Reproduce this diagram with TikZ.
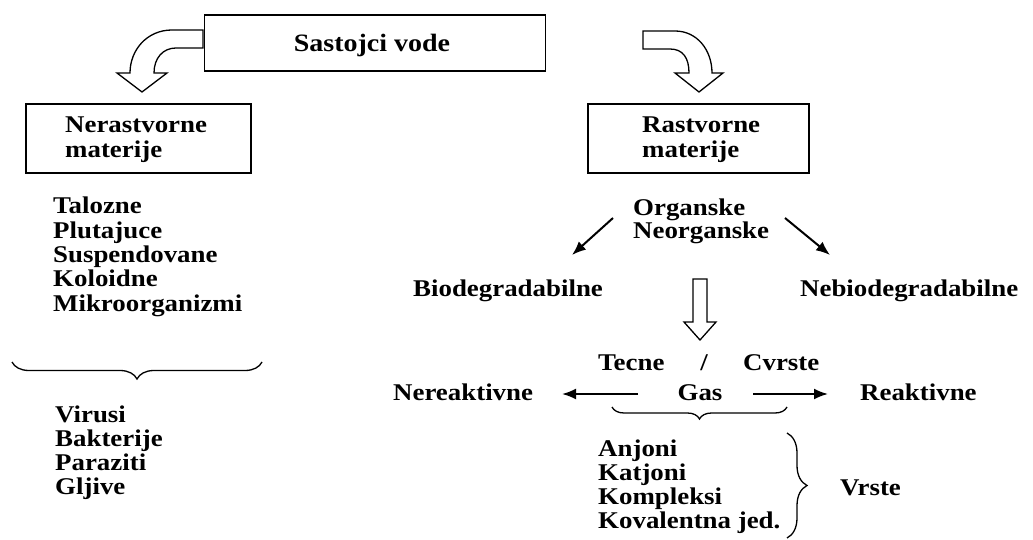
\documentclass[tikz,border=0pt]{standalone}
\usepackage{fontspec}
\setmainfont{Liberation Serif}[FakeStretch=1.12]
\usetikzlibrary{arrows.meta, decorations.pathreplacing, calc}

\begin{document}
\begin{tikzpicture}[x=1pt, y=-1pt,
  txt/.style={font=\bfseries\fontsize{24}{26}\selectfont, inner sep=0pt, anchor=base west},
  box/.style={draw, line width=1.6pt, rectangle, inner sep=0pt},
  hollow/.style={draw, line width=1.3pt, fill=white, line join=miter},
  brcdown/.style={decorate, decoration={brace, mirror, amplitude=#1}, line width=1.3pt},
  brcright/.style={decorate, decoration={brace, amplitude=#1}, line width=1.3pt},
  arr/.style={-{Latex[length=14pt, width=11pt]}, line width=2pt}
]
\useasboundingbox (0,0) rectangle (1033,540);

% top box
\node[box, minimum width=341pt, minimum height=56pt] (root) at (375,43) {};
\node[txt, anchor=base, font=\bfseries\fontsize{25}{27}\selectfont] (rootlbl) at (372,52) {Sastojci vode};

% curved hollow arrows
\draw[hollow] (203,30) -- (172,30) .. controls (147,30) and (130,50) .. (130,73)
  -- (117,73) -- (142,92) -- (167,73) -- (154,73)
  .. controls (154,58) and (163,48) .. (176,48) -- (203,48) -- cycle;
\draw[hollow] (643,31) -- (675,31) .. controls (697,31) and (712,50) .. (712,73)
  -- (723,73) -- (699,92) -- (675,73) -- (689,73)
  .. controls (689,58) and (683,49) .. (670,49) -- (643,49) -- cycle;

% second level boxes
\node[box, anchor=north west, minimum width=225pt, minimum height=69pt] (insol) at (25,103) {};
\node[txt] (insol1) at (65,133) {Nerastvorne};
\node[txt] (insol2) at (65,158) {materije};
\node[box, anchor=north west, minimum width=221pt, minimum height=69pt] (sol) at (587,103) {};
\node[txt] (sol1) at (642,133) {Rastvorne};
\node[txt] (sol2) at (642,158) {materije};

% left side
\foreach \w [count=\i] in {Talozne, Plutajuce, Suspendovane, Koloidne, Mikroorganizmi}
  \node[txt] (kind\i) at (53,{214+24.3*(\i-1)}) {\w};
\coordinate (lb1) at (12,362);
\coordinate (lb2) at (262,362);
\draw[brcdown=17pt] (lb1) -- (lb2);
\foreach \w [count=\i] in {Virusi, Bakterije, Paraziti, Gljive}
  \node[txt] (micro\i) at (55,{422+24.2*(\i-1)}) {\w};

% right side
\node[txt] (org) at (633,215) {Organske};
\node[txt] (anorg) at (633,238) {Neorganske};
\node[txt] (bio) at (413,296) {Biodegradabilne};
\node[txt] (nbio) at (800,296) {Nebiodegradabilne};
\coordinate (a1) at (613,218);
\coordinate (a2) at (572,255);
\coordinate (b1) at (785,218);
\coordinate (b2) at (830,255);
\draw[arr] (a1) -- (a2);
\draw[arr] (b1) -- (b2);

\draw[hollow] (693,279) -- (707,279) -- (707,322) -- (716,322) -- (700,340)
  -- (684,322) -- (693,322) -- cycle;

\node[txt] (liq) at (598,370) {Tecne};
\node[txt, anchor=base] (slash) at (704,370) {/};
\node[txt] (solid) at (743,370) {Cvrste};
\node[txt, anchor=base] (gas) at (700,400) {Gas};
\node[txt] (nreact) at (393,400) {Nereaktivne};
\node[txt] (react) at (860,400) {Reaktivne};
\coordinate (c1) at (638,394);
\coordinate (c0) at (562,394);
\coordinate (c2) at (753,394);
\coordinate (c3) at (828,394);
\draw[arr] (c1) -- (c0);
\draw[arr] (c2) -- (c3);

\coordinate (gb1) at (612,407);
\coordinate (gb2) at (787,407);
\draw[brcdown=12pt] (gb1) -- (gb2);
\foreach \w [count=\i] in {Anjoni, Katjoni, Kompleksi, Kovalentna jed.}
  \node[txt] (spec\i) at (598,{456+24*(\i-1)}) {\w};
\coordinate (rb1) at (787,433);
\coordinate (rb2) at (787,538);
\draw[brcright=20pt] (rb1) -- (rb2);
\node[txt] (kinds) at (840,495) {Vrste};
\end{tikzpicture}
\end{document}
